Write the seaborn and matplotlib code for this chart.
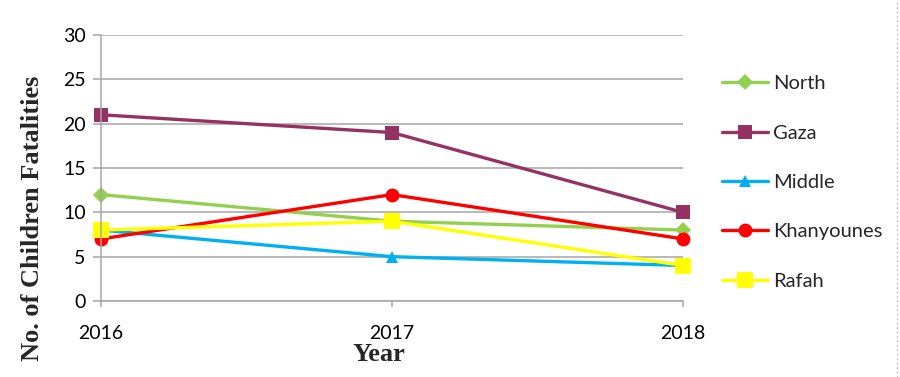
import pandas as pd
import matplotlib.pyplot as plt
import seaborn as sns
from matplotlib.lines import Line2D

# --- data ---
years = [2016, 2017, 2018]
regions = ['North', 'Gaza', 'Middle', 'Khanyounes', 'Rafah']
north = [12, 9, 8]
gaza = [21, 19, 10]
middle = [8, 5, 4]
khanyounes = [7, 12, 7]
rafah = [8, 9, 4]

colors = {'North': '#92D050', 'Gaza': '#953163', 'Middle': '#00B0F0',
          'Khanyounes': '#FF0000', 'Rafah': '#FFFF00'}
markers = {'North': 'D', 'Gaza': 's', 'Middle': '^', 'Khanyounes': 'o', 'Rafah': 's'}
msizes = {'North': 8, 'Gaza': 10, 'Middle': 9, 'Khanyounes': 10, 'Rafah': 11}

df = pd.DataFrame({
    'Year': years * 5,
    'Region': [r for r in regions for _ in years],
    'Value': north + gaza + middle + khanyounes + rafah,
})

sns.set_theme(style='white')
plt.rcParams['font.family'] = ['Lato', 'DejaVu Sans']

fig = plt.figure(figsize=(9, 3.77), dpi=100)
ax = fig.add_axes([0.1122, 0.2016, 0.6467, 0.7056])

for r in regions:
    sub = df[df['Region'] == r]
    sns.lineplot(data=sub, x='Year', y='Value', ax=ax, color=colors[r],
                 marker=markers[r], markersize=msizes[r], markeredgewidth=0,
                 linewidth=2.4, clip_on=False, label=r, legend=False)

ax.set_xlim(2016, 2018)
ax.set_ylim(0, 30)
ax.set_xticks(years)
ax.set_xticklabels([str(y) for y in years])
ax.set_yticks(range(0, 31, 5))
ax.yaxis.grid(True, color='#A6A6A6', linewidth=1.1)
ax.set_axisbelow(True)
for s in ['top', 'right']:
    ax.spines[s].set_visible(False)
for s in ['left', 'bottom']:
    ax.spines[s].set_color('#A6A6A6')
    ax.spines[s].set_linewidth(1.1)
ax.tick_params(axis='y', which='both', left=True, length=6, width=1.1,
               color='#A6A6A6', pad=5, labelsize=14, labelcolor='black')
ax.tick_params(axis='x', which='both', bottom=True, length=4, width=1.1,
               color='#A6A6A6', pad=13, labelsize=14, labelcolor='black')
ax.set_xlabel('')
ax.set_ylabel('')

fig.text(0.036, 0.42, 'No. of Children Fatalities', rotation=90,
         ha='center', va='center', fontsize=19, fontweight='bold',
         family='Liberation Serif')
fig.text(0.421, 0.06, 'Year', ha='center', va='center', fontsize=19,
         fontweight='bold', family='Liberation Serif')

handles = [Line2D([0], [0], color=colors[r], marker=markers[r],
                  markersize=msizes[r], markeredgewidth=0, linewidth=2.4)
           for r in regions]
fig.legend(handles, regions, loc='upper left', bbox_to_anchor=(0.802, 0.80),
           frameon=False, fontsize=14.5, handlelength=2.3, handletextpad=0.25,
           labelspacing=1.6, borderaxespad=0, borderpad=0)

# dotted page edge on the right
fig.add_artist(Line2D([0.997, 0.997], [0, 1], transform=fig.transFigure,
                      color='#999999', linestyle=(0, (1, 3)), linewidth=0.8))

plt.savefig('out.png', dpi=100)
